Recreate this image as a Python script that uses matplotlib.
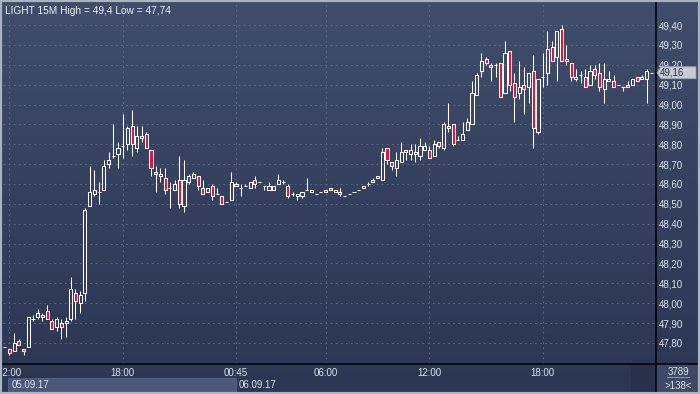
import matplotlib
matplotlib.use('Agg')
import matplotlib.pyplot as plt
import matplotlib.patches as mpatches
from matplotlib.lines import Line2D
from matplotlib.colors import LinearSegmentedColormap
from matplotlib.ticker import FuncFormatter
import numpy as np

# 15 minute candles, LIGHT, 05.09.17 - 06.09.17
opens = [47.78, 47.77, 47.76, 47.81, 47.77, 47.78, 47.92, 47.93, 47.93, 47.96,
         47.91, 47.88, 47.90, 47.90, 47.92, 48.05, 48.00, 48.05, 48.49, 48.55,
         48.56, 48.57, 48.70, 48.74, 48.75, 48.79, 48.80, 48.89, 48.78, 48.83,
         48.85, 48.77, 48.66, 48.64, 48.63, 48.58, 48.57, 48.62, 48.49, 48.61,
         48.63, 48.64, 48.58, 48.56, 48.59, 48.55, 48.54, 48.51, 48.52, 48.60,
         48.58, 48.59, 48.58, 48.62, 48.61, 48.59, 48.57, 48.57, 48.60, 48.61,
         48.59, 48.55, 48.54, 48.54, 48.57, 48.56, 48.55, 48.56, 48.57, 48.58,
         48.56, 48.55, 48.54, 48.55, 48.56, 48.57, 48.58, 48.60, 48.61, 48.64,
         48.62, 48.78, 48.71, 48.68, 48.71, 48.77, 48.75, 48.76, 48.74, 48.77,
         48.77, 48.74, 48.81, 48.78, 48.89, 48.90, 48.82, 48.82, 48.87, 48.90,
         49.05, 49.17, 49.23, 49.20, 49.20, 49.21, 49.06, 49.27, 49.11, 49.06,
         49.10, 49.09, 49.17, 48.86, 49.14, 49.16, 49.29, 49.24, 49.38, 49.23,
         49.21, 49.13, 49.15, 49.14, 49.10, 49.18, 49.16, 49.08, 49.12, 49.12,
         49.10, 49.09, 49.10, 49.10, 49.14, 49.13, 49.13, 49.16]
highs = [47.78, 47.77, 47.85, 47.82, 47.77, 47.93, 47.94, 47.97, 47.95, 47.99,
         47.92, 47.93, 47.92, 47.93, 48.13, 48.07, 48.06, 48.48, 48.69, 48.67,
         48.61, 48.72, 48.76, 48.90, 48.81, 48.95, 48.89, 48.97, 48.89, 48.89,
         48.86, 48.77, 48.69, 48.68, 48.68, 48.61, 48.62, 48.74, 48.72, 48.65,
         48.66, 48.64, 48.62, 48.58, 48.60, 48.58, 48.54, 48.51, 48.66, 48.61,
         48.60, 48.60, 48.61, 48.64, 48.61, 48.59, 48.61, 48.59, 48.65, 48.62,
         48.60, 48.56, 48.55, 48.56, 48.63, 48.57, 48.55, 48.56, 48.57, 48.58,
         48.57, 48.58, 48.54, 48.55, 48.56, 48.57, 48.59, 48.61, 48.63, 48.64,
         48.78, 48.78, 48.71, 48.76, 48.81, 48.77, 48.80, 48.80, 48.83, 48.81,
         48.79, 48.82, 48.81, 48.91, 49.01, 48.90, 48.84, 48.91, 48.93, 49.12,
         49.16, 49.26, 49.24, 49.21, 49.21, 49.21, 49.32, 49.27, 49.16, 49.22,
         49.19, 49.16, 49.25, 49.13, 49.26, 49.37, 49.32, 49.37, 49.40, 49.30,
         49.21, 49.18, 49.17, 49.18, 49.20, 49.20, 49.21, 49.21, 49.17, 49.15,
         49.10, 49.09, 49.12, 49.13, 49.14, 49.15, 49.18, 49.16]
lows = [47.78, 47.74, 47.76, 47.79, 47.74, 47.78, 47.91, 47.92, 47.91, 47.92,
        47.87, 47.86, 47.82, 47.83, 47.91, 47.92, 47.95, 48.01, 48.49, 48.54,
        48.50, 48.57, 48.68, 48.73, 48.68, 48.73, 48.77, 48.74, 48.76, 48.81,
        48.78, 48.64, 48.56, 48.61, 48.55, 48.48, 48.57, 48.48, 48.46, 48.60,
        48.63, 48.57, 48.55, 48.56, 48.52, 48.55, 48.50, 48.51, 48.52, 48.59,
        48.54, 48.59, 48.58, 48.58, 48.61, 48.57, 48.57, 48.57, 48.60, 48.60,
        48.53, 48.54, 48.52, 48.53, 48.57, 48.56, 48.55, 48.56, 48.56, 48.57,
        48.56, 48.54, 48.54, 48.55, 48.56, 48.57, 48.58, 48.59, 48.61, 48.63,
        48.62, 48.70, 48.67, 48.64, 48.71, 48.72, 48.72, 48.71, 48.72, 48.77,
        48.73, 48.74, 48.78, 48.77, 48.86, 48.79, 48.82, 48.82, 48.87, 48.90,
        49.05, 49.14, 49.20, 49.12, 49.14, 49.04, 49.06, 49.07, 48.91, 49.03,
        48.95, 49.01, 48.78, 48.85, 49.09, 49.10, 49.22, 49.12, 49.22, 49.20,
        49.12, 49.12, 49.11, 49.09, 49.10, 49.13, 49.07, 49.01, 49.12, 49.09,
        49.10, 49.07, 49.09, 49.10, 49.12, 49.13, 49.01, 49.16]
closes = [47.78, 47.75, 47.80, 47.79, 47.76, 47.93, 47.92, 47.95, 47.94, 47.92,
          47.87, 47.92, 47.88, 47.91, 48.07, 48.01, 48.04, 48.47, 48.56, 48.57,
          48.56, 48.69, 48.72, 48.74, 48.78, 48.79, 48.88, 48.80, 48.84, 48.84,
          48.78, 48.68, 48.65, 48.65, 48.57, 48.58, 48.60, 48.50, 48.62, 48.64,
          48.65, 48.59, 48.55, 48.58, 48.54, 48.55, 48.50, 48.51, 48.61, 48.59,
          48.58, 48.59, 48.61, 48.60, 48.61, 48.59, 48.59, 48.59, 48.62, 48.61,
          48.54, 48.55, 48.55, 48.56, 48.57, 48.57, 48.55, 48.56, 48.56, 48.57,
          48.57, 48.56, 48.54, 48.55, 48.56, 48.57, 48.59, 48.60, 48.62, 48.63,
          48.76, 48.72, 48.69, 48.72, 48.76, 48.76, 48.77, 48.75, 48.79, 48.79,
          48.73, 48.80, 48.79, 48.90, 48.88, 48.80, 48.82, 48.85, 48.91, 49.06,
          49.15, 49.22, 49.21, 49.19, 49.20, 49.04, 49.26, 49.10, 49.04, 49.09,
          49.08, 49.16, 48.88, 49.13, 49.14, 49.28, 49.22, 49.37, 49.22, 49.22,
          49.14, 49.14, 49.15, 49.09, 49.17, 49.15, 49.09, 49.13, 49.13, 49.09,
          49.10, 49.09, 49.09, 49.13, 49.12, 49.14, 49.17, 49.16]

time_idx = [1, 25, 49, 68, 90, 114]
time_labels = ['12:00', '18:00', '00:45', '06:00', '12:00', '18:00']
date_idx = [1, 49]
date_labels = ['05.09.17', '06.09.17']
price_ticks = [47.8, 47.9, 48.0, 48.1, 48.2, 48.3, 48.4, 48.5,
               48.6, 48.7, 48.8, 48.9, 49.0, 49.1, 49.2, 49.3, 49.4]
symbol = 'LIGHT'
period = '15M'
counter = '3789'

W, H = 700, 394
FONT = 'Liberation Sans'
txt_col = '#dfe4ec'
red = '#e5103a'
grid_col = '#5b6884'

def fx(px):
    return px / W

def fy(py):
    return 1 - py / H

fig = plt.figure(figsize=(7, 3.94), dpi=100)
fig.patch.set_facecolor('#35415d')

# background gradient over the whole window
bg = fig.add_axes([0, 0, 1, 1], zorder=-5)
cmap = LinearSegmentedColormap.from_list('bg', ['#2b3653', '#34405d', '#414e6b'])
bg.imshow(np.linspace(0, 1, 256).reshape(-1, 1), cmap=cmap, aspect='auto',
          extent=[0, 1, 0, 1], origin='lower')
bg.set_axis_off()

# main chart area
ax = fig.add_axes([fx(3), 1 - 364 / H, fx(653), 362 / H])
ax.set_facecolor('none')
x = np.arange(len(closes))
o = np.array(opens)
c = np.array(closes)
hi = np.array(highs)
lo = np.array(lows)
top = np.maximum(o, c)
bot = np.minimum(o, c)
down = c < o

ax.vlines(x, top, hi, color='white', linewidth=0.75, zorder=3)
ax.vlines(x, lo, bot, color='white', linewidth=0.75, zorder=3)
ax.bar(x, top - bot, bottom=bot, width=0.66,
       color=[red if d else 'none' for d in down],
       edgecolor='white', linewidth=0.75, zorder=4)

ax.set_xlim(-0.36, len(closes) - 0.01)
ax.set_ylim(47.694, 49.516)
for s in ax.spines.values():
    s.set_visible(False)

ax.yaxis.tick_right()
ax.set_yticks(price_ticks)
ax.yaxis.set_major_formatter(FuncFormatter(lambda v, p: f'{v:.2f}'.replace('.', ',')))
ax.tick_params(axis='y', length=0, pad=2.2, labelsize=7, labelcolor=txt_col)
for lab in ax.get_yticklabels():
    lab.set_fontfamily(FONT)
ax.set_xticks(time_idx)
ax.tick_params(axis='x', length=0, labelbottom=False)
ax.grid(True, color=grid_col, linestyle=(0, (1.6, 3)), linewidth=0.8)
ax.set_axisbelow(True)

# title
ax.text(0.003, 0.988, f'{symbol} {period} High = {max(highs):g} Low = {min(lows):g}'.replace('.', ','),
        transform=ax.transAxes, ha='left', va='top', fontsize=7.3,
        color='#eef1f5', family=FONT)

# time axis band
axb = fig.add_axes([fx(3), fy(392), fx(653), 28 / H])
axb.set_facecolor('#3d4965')
axb.set_xlim(ax.get_xlim())
axb.set_ylim(0, 1)
axb.set_axis_off()
axb.add_patch(mpatches.Rectangle((date_idx[0] - 0.3, 0.0), date_idx[1] - date_idx[0] + 0.3, 0.5,
                                 facecolor='#4b5878', edgecolor='#58658a', linewidth=0.6))
axb.add_patch(mpatches.Rectangle((132.6, 0.0), 5.4, 1.0, facecolor='#28324c', edgecolor='none'))
for i, lab in zip(time_idx, time_labels):
    axb.text(i, 0.69, lab, ha='center', va='center', fontsize=7, color=txt_col,
             family=FONT, clip_on=True)
for i, lab in zip(date_idx, date_labels):
    axb.text(i + 0.5, 0.25, lab, ha='left', va='center', fontsize=7, color=txt_col,
             family=FONT, clip_on=True)

# lower right counter box
fig.patches.append(mpatches.Rectangle((fx(656), fy(394)), fx(44), 30 / H, transform=fig.transFigure,
                                      facecolor='#3d4965', edgecolor='none', zorder=1))
fig.text(fx(678), fy(372), counter, ha='center', va='center', fontsize=7, color=txt_col, family=FONT)
fig.text(fx(678), fy(386), f'>{len(closes)}<', ha='center', va='center', fontsize=7,
         color=txt_col, family=FONT)
fig.lines.append(Line2D([fx(667), fx(689)], [fy(377), fy(377)], transform=fig.transFigure,
                        color='#9aa5b8', linewidth=0.6))

# black separators
fig.lines.append(Line2D([fx(3), 1], [fy(364), fy(364)], transform=fig.transFigure,
                        color='black', linewidth=1.1, zorder=5))
fig.lines.append(Line2D([fx(656), fx(656)], [0, 1], transform=fig.transFigure,
                        color='black', linewidth=1.1, zorder=5))

# last price tag
last = closes[-1]
yl = ax.transData.transform((0, last))[1] / H
tag = mpatches.Polygon([(fx(657), yl), (fx(661), yl + 6 / H), (fx(696), yl + 6 / H),
                        (fx(696), yl - 6 / H), (fx(661), yl - 6 / H)], closed=True,
                       transform=fig.transFigure, facecolor='#c6cbd4', edgecolor='#9aa3b3',
                       linewidth=0.6, zorder=6)
fig.patches.append(tag)
fig.text(fx(660), yl, f'{last:.2f}'.replace('.', ','), ha='left', va='center', fontsize=7,
         color='#2a3040', family=FONT, zorder=7)

# window frame
fig.patches.append(mpatches.Rectangle((0, 0), 1, 1, transform=fig.transFigure, fill=False,
                                      edgecolor='#aab3c2', linewidth=3, zorder=8))

fig.savefig('out.png', dpi=100)
